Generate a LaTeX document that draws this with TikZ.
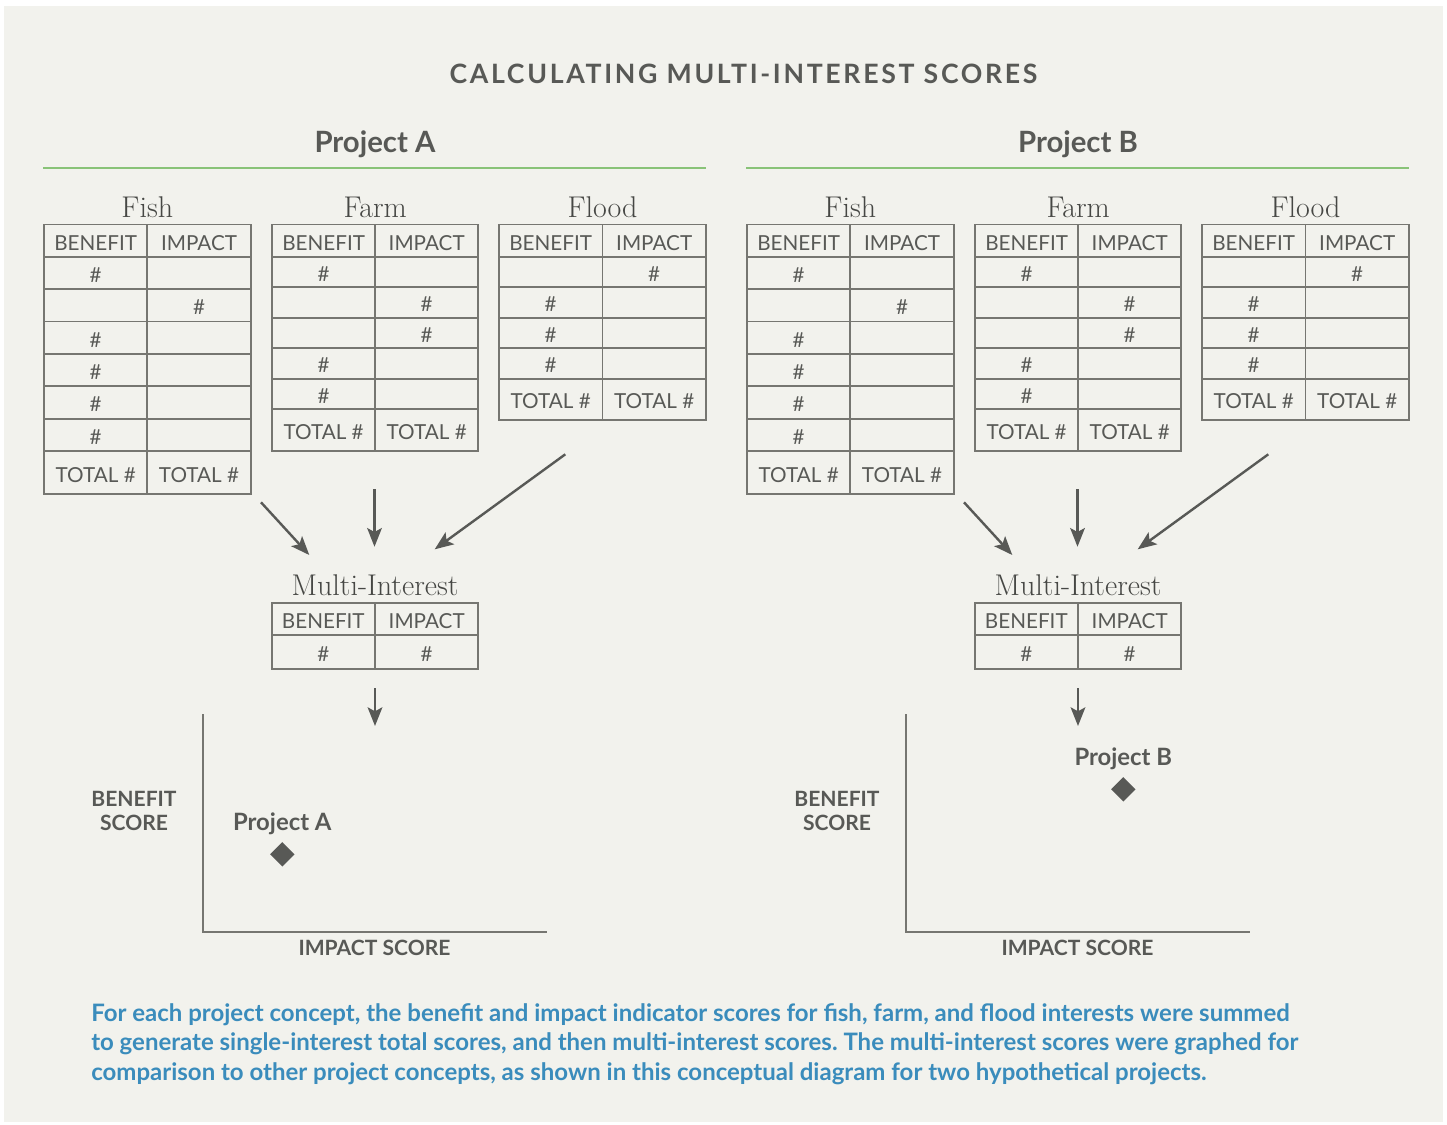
\documentclass[tikz,border=0pt]{standalone}
\usepackage{fontspec}
\setsansfont{Lato}
\newfontfamily\titlefont{Lato}[LetterSpace=10]
\usetikzlibrary{arrows.meta,shapes.geometric}

\definecolor{bggrey}{RGB}{242,242,237}
\definecolor{txtgrey}{RGB}{88,89,86}
\definecolor{lblgrey}{RGB}{70,71,68}
\definecolor{linegrey}{RGB}{118,118,113}
\definecolor{rulegreen}{RGB}{137,195,120}
\definecolor{notblue}{RGB}{58,140,188}

\tikzset{
  ttl/.style={font=\titlefont\bfseries\fontsize{20}{20}\selectfont, text=txtgrey, anchor=base, inner sep=0pt},
  proj/.style={font=\sffamily\bfseries\fontsize{17.9}{17.9}\selectfont, text=txtgrey, anchor=base, inner sep=0pt},
  lbl/.style={font=\fontsize{22.5}{22.5}\selectfont, text=lblgrey, anchor=base, inner sep=0pt},
  cell/.style={font=\sffamily\fontsize{15.5}{15.5}\selectfont, text=txtgrey, inner sep=0pt, yshift=-1.5pt},
  axlbl/.style={font=\sffamily\bfseries\fontsize{15.8}{17.8}\selectfont, text=txtgrey, inner sep=0pt},
  tabline/.style={draw=linegrey, line width=1.4pt},
  rule/.style={draw=rulegreen, line width=1.8pt},
  axisline/.style={draw=linegrey, line width=1.6pt},
  flow/.style={draw=txtgrey, line width=1.8pt, -{Stealth[length=14pt,width=11pt,inset=3pt]}},
  marker/.style={diamond, fill=txtgrey, minimum size=18.5pt, inner sep=0pt},
}

\begin{document}
\begin{tikzpicture}[x=0.75pt,y=0.75pt,yscale=-1,xscale=1]
\useasboundingbox (0,0) rectangle (1447,1125);
%Background
\fill [bggrey] (4,6) rectangle (1443,1122);

% Text Node
\draw (743.5,83) node (title) [ttl] {CALCULATING MULTI-INTEREST SCORES};

\foreach \p/\dx/\px/\py in {A/0/282.3/830,B/703/420.3/765}{
\begin{scope}[shift={(\dx,0)}]
% Text Node
\draw (375,152) node (head\p) [proj, font=\sffamily\bfseries\fontsize{22}{22}\selectfont] {Project \p};
%Straight Lines
\draw [rule] (43,168) -- (706,168);

%Fish table
\draw [tabline] (44,224.5) rectangle (250.7,494.3);
\draw [tabline] (147.3,224.5) -- (147.3,494.3);
\foreach \y in {256.7,289.1,321.5,353.9,386.3,418.7,451.1} \draw [tabline] (44,\y) -- (250.7,\y);
\draw (147.3,217) node (fish\p) [lbl] {Fish};
\draw (95.7,240.6) node (fish\p-hb) [cell] {BENEFIT};
\draw (199,240.6) node (fish\p-hi) [cell] {IMPACT};
\draw (95.7,272.9) node (fish\p-b1) [cell] {\#};
\draw (199,305.3) node (fish\p-i2) [cell] {\#};
\draw (95.7,337.7) node (fish\p-b3) [cell] {\#};
\draw (95.7,370.1) node (fish\p-b4) [cell] {\#};
\draw (95.7,402.5) node (fish\p-b5) [cell] {\#};
\draw (95.7,434.9) node (fish\p-b6) [cell] {\#};
\draw (95.7,472.7) node (fish\p-tb) [cell] {TOTAL \#};
\draw (199,472.7) node (fish\p-ti) [cell] {TOTAL \#};

%Farm table
\draw [tabline] (272,224.5) rectangle (478.3,451);
\draw [tabline] (375.2,224.5) -- (375.2,451);
\foreach \y in {256.7,287.2,317.7,348.2,378.7,409.2} \draw [tabline] (272,\y) -- (478.3,\y);
\draw (375.2,217) node (farm\p) [lbl] {Farm};
\draw (323.6,240.6) node (farm\p-hb) [cell] {BENEFIT};
\draw (426.7,240.6) node (farm\p-hi) [cell] {IMPACT};
\draw (323.6,272) node (farm\p-b1) [cell] {\#};
\draw (426.7,302.5) node (farm\p-i2) [cell] {\#};
\draw (426.7,333) node (farm\p-i3) [cell] {\#};
\draw (323.6,363.5) node (farm\p-b4) [cell] {\#};
\draw (323.6,394) node (farm\p-b5) [cell] {\#};
\draw (323.6,430.1) node (farm\p-tb) [cell] {TOTAL \#};
\draw (426.7,430.1) node (farm\p-ti) [cell] {TOTAL \#};

%Flood table
\draw [tabline] (499,224.5) rectangle (706,420);
\draw [tabline] (602.5,224.5) -- (602.5,420);
\foreach \y in {256.7,287.2,317.7,348.2,378.7} \draw [tabline] (499,\y) -- (706,\y);
\draw (602.5,217) node (flood\p) [lbl] {Flood};
\draw (550.7,240.6) node (flood\p-hb) [cell] {BENEFIT};
\draw (654.2,240.6) node (flood\p-hi) [cell] {IMPACT};
\draw (654.2,272) node (flood\p-i1) [cell] {\#};
\draw (550.7,302.5) node (flood\p-b2) [cell] {\#};
\draw (550.7,333) node (flood\p-b3) [cell] {\#};
\draw (550.7,363.5) node (flood\p-b4) [cell] {\#};
\draw (550.7,399.3) node (flood\p-tb) [cell] {TOTAL \#};
\draw (654.2,399.3) node (flood\p-ti) [cell] {TOTAL \#};

%Arrows into the multi-interest table
\coordinate (fish\p-out) at (261,502.3);
\coordinate (farm\p-out) at (374.5,489.3);
\coordinate (flood\p-out) at (565.3,454.3);
\coordinate (multi\p-inl) at (309.3,555);
\coordinate (multi\p-inm) at (374.5,546.7);
\coordinate (multi\p-inr) at (434.7,549.3);
\draw [flow] (fish\p-out) -- (multi\p-inl);
\draw [flow] (farm\p-out) -- (multi\p-inm);
\draw [flow] (flood\p-out) -- (multi\p-inr);

%Multi-interest table
\draw [tabline] (271.7,602.7) rectangle (478.3,669);
\draw [tabline] (375,602.7) -- (375,669);
\draw [tabline] (271.7,634.7) -- (478.3,634.7);
\draw (375,595) node (multi\p) [lbl] {Multi-Interest};
\draw (323.3,618.7) node (multi\p-hb) [cell] {BENEFIT};
\draw (426.7,618.7) node (multi\p-hi) [cell] {IMPACT};
\draw (323.3,651.8) node (multi\p-b) [cell] {\#};
\draw (426.7,651.8) node (multi\p-i) [cell] {\#};
\coordinate (multi\p-out) at (375,688);
\coordinate (plot\p-in) at (375,726);
\draw [flow] (multi\p-out) -- (plot\p-in);

%Score graph
\draw [axisline] (203,714.3) -- (203,931.7) -- (547.3,931.7);
\draw (134,811) node (ylab\p) [axlbl, align=center] {BENEFIT\\SCORE};
\draw (374.5,955.7) node (xlab\p) [axlbl, anchor=base] {IMPACT SCORE};
\draw (\px,\py) node (name\p) [proj] {Project \p};
\draw ({\px},{\py+24.3}) node (mark\p) [marker] {};
\end{scope}
}

% Text Node
\draw (91,1003) node (note) [anchor=north west, inner sep=0pt, align=left, text=notblue, font=\sffamily\bfseries\fontsize{18}{22.1}\selectfont\frenchspacing] {For each project concept, the benefit and impact indicator scores for fish, farm, and flood interests were summed\\to generate single-interest total scores, and then multi-interest scores. The multi-interest scores were graphed for\\comparison to other project concepts, as shown in this conceptual diagram for two hypothetical projects.};
\end{tikzpicture}
\end{document}
